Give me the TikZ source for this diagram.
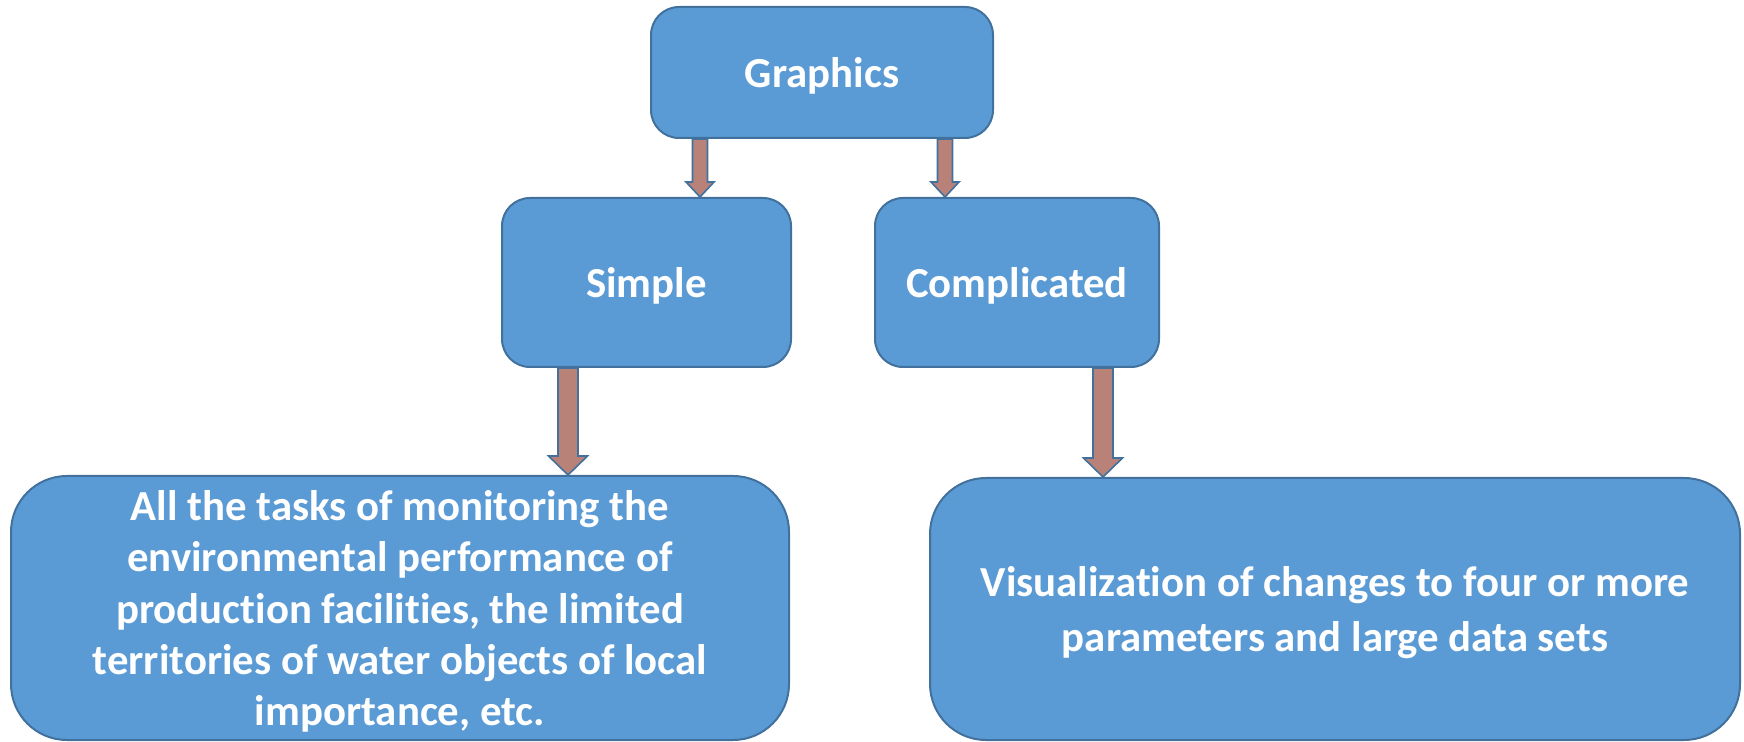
\documentclass[tikz,border=0pt]{standalone}
\usepackage{fontspec}
\setmainfont{Carlito}[Ligatures=NoCommon]
\usetikzlibrary{calc}

\definecolor{boxblue}{RGB}{91,155,213}
\definecolor{boxedge}{RGB}{65,113,156}
\definecolor{arrowfill}{RGB}{185,130,120}

% block arrow: from, to, half shaft, half head, head length
\newcommand{\blockarrow}[5]{%
  \draw[arrowbody] let \p1=(#1), \p2=(#2) in
    (\x1-#3,\y1) -- (\x1-#3,\y2+#5) -- (\x1-#4,\y2+#5) -- (\x1,\y2)
    -- (\x1+#4,\y2+#5) -- (\x1+#3,\y2+#5) -- (\x1+#3,\y1) -- cycle;
}

\begin{document}
\begin{tikzpicture}[x=0.5pt,y=-0.5pt,
  box/.style={draw=boxedge,line width=1pt,fill=boxblue,rounded corners=14pt,
    text=white,align=center,inner sep=0pt,text depth=0pt,
    font=\bfseries\fontsize{21.4}{25.7}\selectfont},
  bigbox/.style={box,rounded corners=28pt,text depth=-5pt},
  arrowbody/.style={draw=boxedge,line width=0.8pt,fill=arrowfill,line join=miter}]

  \useasboundingbox (0,0) rectangle (1744,742);

  \node (graphics) at (822,72.5) [box,minimum width=171pt,minimum height=65.5pt] {Graphics};
  \node (simple) at (646.5,282.5) [box,minimum width=144.5pt,minimum height=84.5pt] {Simple};
  \node (complicated) at (1017,282.5) [box,minimum width=142pt,minimum height=84.5pt] {Complicated};

  \node (tasks) at (400,608) [bigbox,minimum width=389pt,minimum height=132pt]
    {All the tasks of monitoring the\\environmental performance of\\production facilities, the limited\\territories of water objects of local\\importance, etc.};
  \node (visual) at (1335,609) [bigbox,minimum width=405pt,minimum height=131pt,
    font=\bfseries\fontsize{21.4}{27.8}\selectfont]
    {Visualization of changes to four or more\\parameters and large data sets};

  \coordinate (c1) at (700,0);
  \coordinate (c2) at (945,0);
  \coordinate (c3) at (568,0);
  \coordinate (c4) at (1103,0);

  \blockarrow{graphics.south -| c1}{simple.north -| c1}{3.75pt}{7pt}{7.5pt}
  \blockarrow{graphics.south -| c2}{complicated.north -| c2}{3.75pt}{7pt}{7.5pt}
  \blockarrow{simple.south -| c3}{tasks.north -| c3}{5pt}{9.75pt}{9.5pt}
  \blockarrow{complicated.south -| c4}{visual.north -| c4}{5pt}{9.75pt}{9.5pt}

\end{tikzpicture}
\end{document}
